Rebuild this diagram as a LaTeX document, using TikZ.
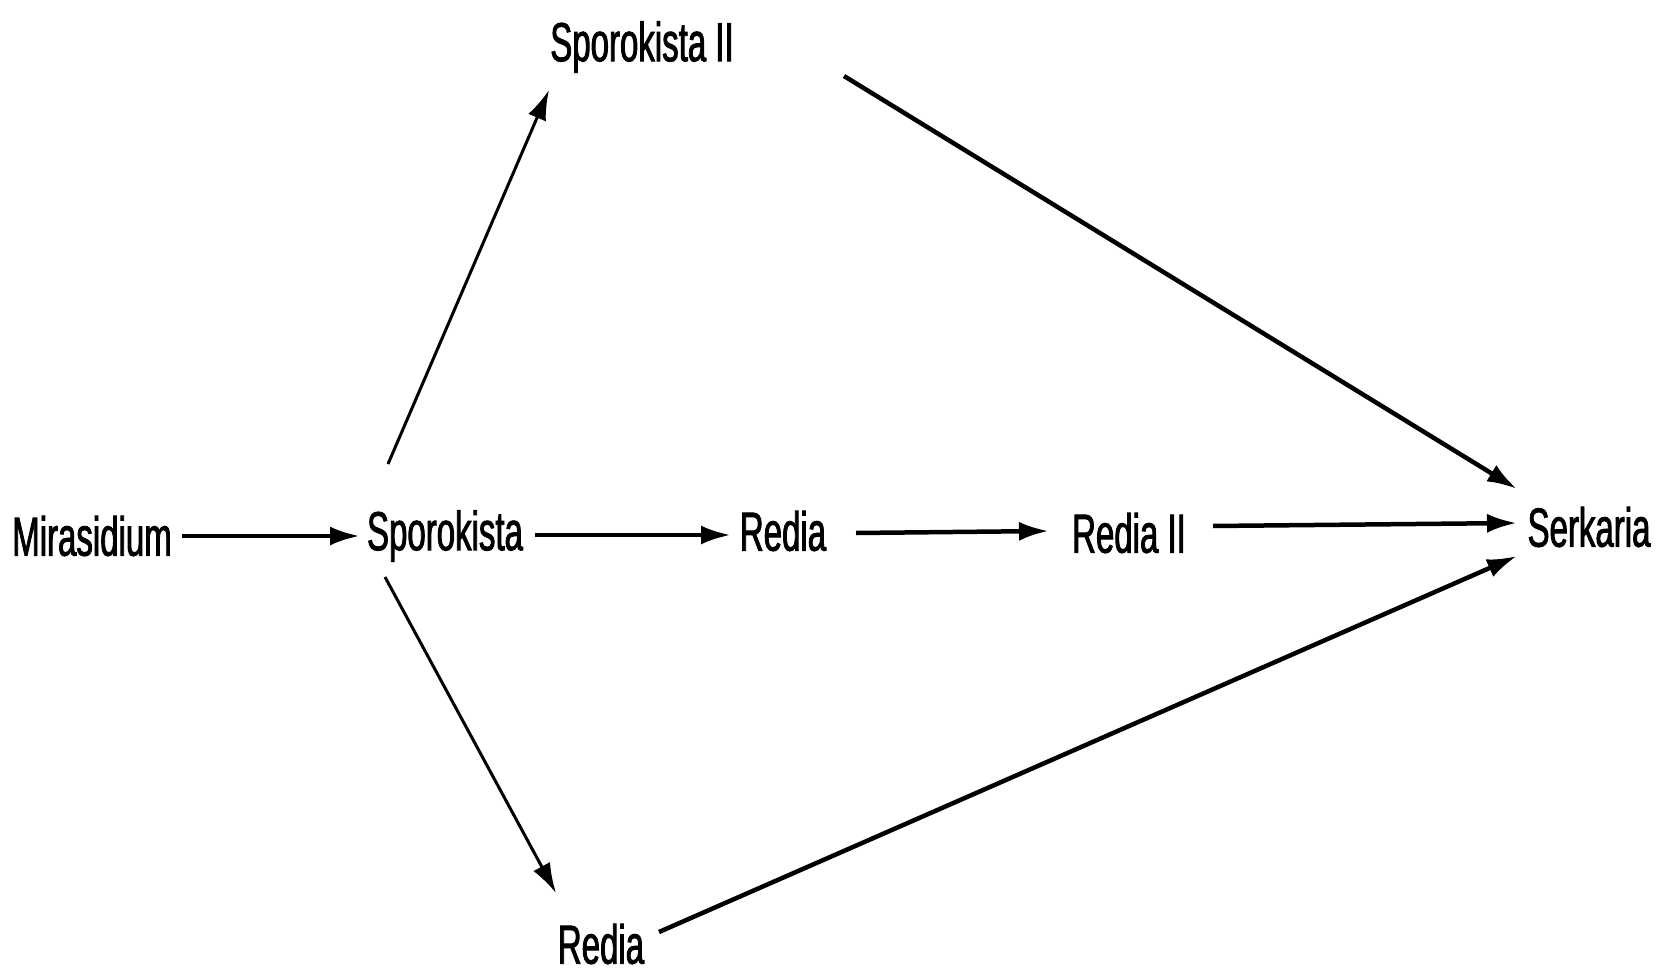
\documentclass[tikz,border=0pt]{standalone}
\usepackage{fontspec}
\setmainfont[FakeStretch=0.6,FakeBold=1.5]{Liberation Sans}
\usetikzlibrary{arrows.meta}
\begin{document}
\begin{tikzpicture}[x=1pt,y=-1pt,
  lbl/.style={font=\fontsize{55}{60}\selectfont, inner sep=0pt, anchor=center},
  arr/.style={line width=4.5pt, -{Latex[length=30pt,width=19pt]}},
  thinarr/.style={arr, line width=3pt}]
\useasboundingbox (0,0) rectangle (1661,973);
\node[lbl] (mir) at (92,536) {Mirasidium};
\node[lbl] (spk) at (445,536) {Sporokista};
\node[lbl] (red) at (783,531) {Redia};
\node[lbl] (red2) at (1129,533) {Redia II};
\node[lbl] (ser) at (1589,527) {Serkaria};
\node[lbl] (spk2) at (642,47) {Sporokista II};
\node[lbl] (redb) at (601,944) {Redia};
\draw[arr] ([shift={(90,0)}]mir.center) -- ([shift={(-85,0)}]spk.center);
\draw[arr] ([shift={(90,-1)}]spk.center) -- ([shift={(-52,4)}]red.center);
\draw[arr] ([shift={(73,2)}]red.center) -- ([shift={(-80,-2)}]red2.center);
\draw[arr] ([shift={(84,-7)}]red2.center) -- ([shift={(-72,-4)}]ser.center);
\draw[thinarr] ([shift={(-57,-72)}]spk.center) -- ([shift={(-93,43)}]spk2.center);
\draw[arr] ([shift={(202,29)}]spk2.center) -- ([shift={(-72,-38)}]ser.center);
\draw[thinarr] ([shift={(-60,41)}]spk.center) -- ([shift={(-45,-51)}]redb.center);
\draw[arr] ([shift={(58,-12)}]redb.center) -- ([shift={(-72,29)}]ser.center);
\end{tikzpicture}
\end{document}
